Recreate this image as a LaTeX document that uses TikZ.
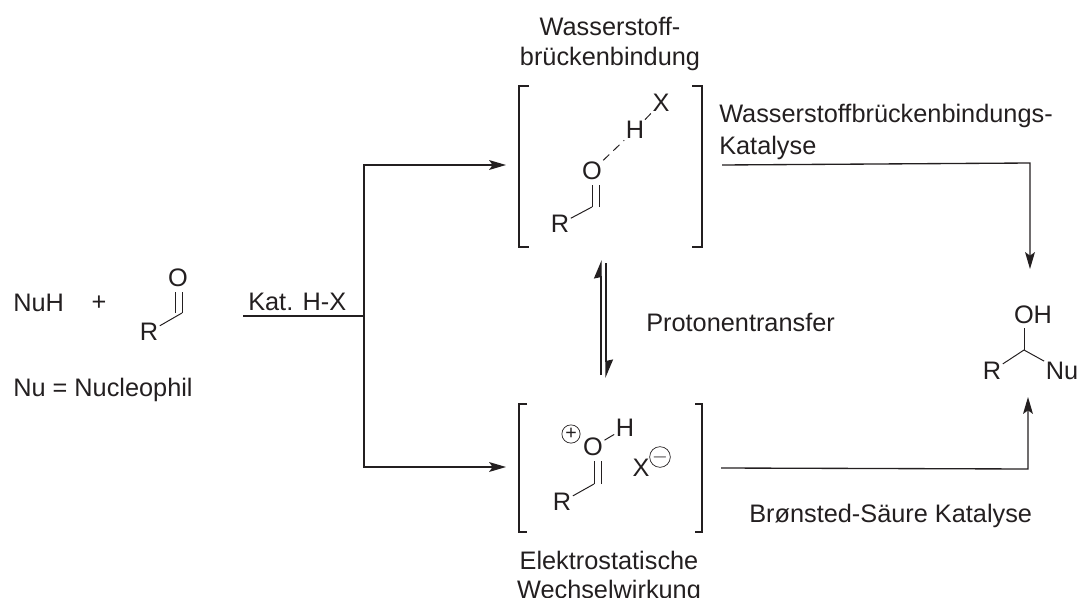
\documentclass[tikz,border=0pt]{standalone}
\usepackage{fontspec}
\setmainfont{Liberation Sans}
\usetikzlibrary{arrows.meta}
\definecolor{ink}{HTML}{231F20}
\tikzset{
  txt/.style={inner sep=0pt,font=\fontsize{18}{18}\selectfont,text=ink},
  atom/.style={txt,inner sep=1pt},
  bond/.style={draw=ink,line width=.7pt},
  flow/.style={draw=ink,line width=.95pt},
  tip/.style={-{Stealth[length=12pt,width=7pt,inset=2.5pt]}},
  charge/.style={circle,draw=ink,line width=.5pt,minimum size=13pt,inner sep=0pt,font=\fontsize{14}{14}\selectfont,text=ink},
  bracket/.style={draw=ink,line width=1.2pt}
}
\begin{document}
\begin{tikzpicture}[x=.025cm,y=-.025cm]
  \useasboundingbox (0,0) rectangle (1080,598);
  % left side
  \node[txt,anchor=west] at(13,302.5)(nuh){NuH};
  \node[txt] at(99,303)(plus){+};
  \node[txt,anchor=west] at(13,390)(nudef){Nu = Nucleophil};
  \node[atom] at(178,278)(o1){O};
  \node[atom] at(149,332)(r1){R};
  \coordinate (c1) at(182,313);
  \coordinate (c1b) at(175,313);
  \coordinate (o1a) at(182,292);
  \coordinate (o1b) at(175,292);
  \draw[bond] (r1) -- (c1);
  \draw[bond] (c1) -- (o1a);
  \draw[bond] (c1b) -- (o1b);
  \node[txt,anchor=west] at(248,301.5)(kat){Kat. H-X};
  % main arrows
  \coordinate (start) at(243,316);
  \coordinate (fork) at(364,316);
  \coordinate (forktop) at(364,165);
  \coordinate (forkbot) at(364,467);
  \coordinate (tiptop) at(506,165);
  \coordinate (tipbot) at(506,467);
  \draw[flow] (start) -- (fork);
  \draw[flow,tip] (fork) -- (forktop) -- (tiptop);
  \draw[flow,tip] (fork) -- (forkbot) -- (tipbot);
  % upper complex
  \node[txt] at(610,26)(wb1){Wasserstoff-};
  \node[txt] at(610,58.5)(wb2){brückenbindung};
  \draw[bracket] (529,86) -- (519,86) -- (519,247) -- (529,247);
  \draw[bracket] (692,86) -- (702,86) -- (702,247) -- (692,247);
  \node[atom] at(661,103)(x2){X};
  \node[atom] at(635,130)(h2){H};
  \node[atom] at(592,171)(o2){O};
  \node[atom] at(560,224)(r2){R};
  \coordinate (c2) at(592,207);
  \coordinate (c2b) at(599,207);
  \coordinate (o2a) at(592,185);
  \coordinate (o2b) at(599,185);
  \draw[bond] (r2) -- (c2);
  \draw[bond] (c2) -- (o2a);
  \draw[bond] (c2b) -- (o2b);
  \draw[bond,dashed,dash pattern=on 6pt off 4pt] (o2) -- (h2);
  \draw[bond,dashed,dash pattern=on 6pt off 4pt] (h2) -- (x2);
  % equilibrium
  \coordinate (eqa) at(601,375);
  \coordinate (eqb) at(601,260);
  \coordinate (eqc) at(606,263);
  \coordinate (eqd) at(606,378);
  \draw[flow,-{Stealth[harpoon,length=12pt,width=10pt,inset=1pt]}] (eqa) -- (eqb);
  \draw[flow,-{Stealth[harpoon,length=12pt,width=10pt,inset=1pt]}] (eqc) -- (eqd);
  \node[txt,anchor=west] at(646,322)(pt){Protonentransfer};
  % lower complex
  \draw[bracket] (527,404) -- (519,404) -- (519,532) -- (527,532);
  \draw[bracket] (695,404) -- (702,404) -- (702,532) -- (695,532);
  \node[charge] at(571,434)(plusc){+};
  \node[atom] at(593,447)(o3){O};
  \node[atom] at(625,428)(h3){H};
  \node[atom] at(562,502)(r3){R};
  \node[atom] at(641,468)(x3){X};
  \node[charge] at(660,457)(minusc){$-$};
  \coordinate (c3) at(594,484);
  \coordinate (c3b) at(601,484);
  \coordinate (o3a) at(594,461);
  \coordinate (o3b) at(601,461);
  \draw[bond] (r3) -- (c3);
  \draw[bond] (c3) -- (o3a);
  \draw[bond] (c3b) -- (o3b);
  \draw[bond] (o3) -- (h3);
  \node[txt] at(609,560)(es1){Elektrostatische};
  \node[txt] at(609,592)(es2){Wechselwirkung};
  % right side
  \node[txt,anchor=west] at(719,116)(wk1){Wasserstoffbrückenbindungs-};
  \node[txt,anchor=west] at(719,148)(wk2){Katalyse};
  \node[txt,anchor=west] at(749,516)(bs){Brønsted-Säure Katalyse};
  \coordinate (ra) at(722,165);
  \coordinate (rb) at(1030,163);
  \coordinate (rc) at(1030,269);
  \coordinate (rd) at(721,468);
  \coordinate (re) at(1028,469);
  \coordinate (rf) at(1028,397);
  \draw[flow,tip] (ra) -- (rb) -- (rc);
  \draw[flow,tip] (rd) -- (re) -- (rf);
  \node[atom] at(1033,315)(oh){OH};
  \node[atom] at(992,371)(r4){R};
  \node[atom] at(1062,371)(nu){Nu};
  \coordinate (c4) at(1024,350);
  \coordinate (oh1) at(1024,328);
  \draw[bond] (c4) -- (oh1);
  \draw[bond] (c4) -- (r4);
  \draw[bond] (c4) -- (nu);
\end{tikzpicture}
\end{document}
